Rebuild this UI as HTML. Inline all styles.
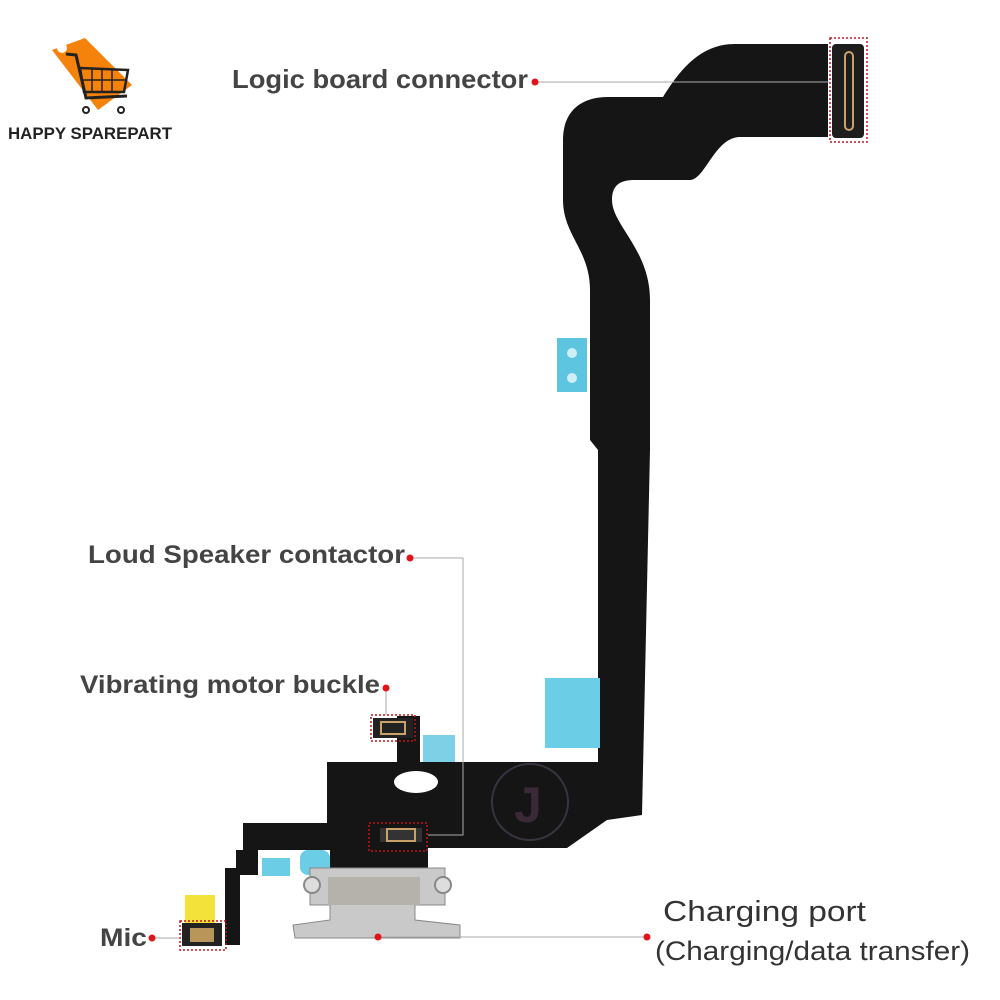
<!DOCTYPE html>
<html><head><meta charset="utf-8"><style>
html,body{margin:0;padding:0;background:#fff;}
svg{display:block}
text{font-family:"Liberation Sans",sans-serif;}
</style></head><body>
<svg width="1000" height="1000" viewBox="0 0 1000 1000" xmlns="http://www.w3.org/2000/svg">
<!-- logo -->
<g>
 <path d="M52 50 L85 38 L132 85 L98 110 Z" fill="#f5820a"/>
 <circle cx="62" cy="48" r="5" fill="#fff"/>
 <path d="M66 54 L76 55 L86 98 L127 96" fill="none" stroke="#222" stroke-width="3"/>
 <path d="M80 68 L128 70 L124 92 L84 92 Z" fill="none" stroke="#222" stroke-width="2.5"/>
 <path d="M92 69 V92 M102 69 V92 M112 70 V92 M82 80 H126" stroke="#222" stroke-width="1.5"/>
 <circle cx="86" cy="110" r="3" fill="none" stroke="#222" stroke-width="2"/>
 <circle cx="121" cy="110" r="3" fill="none" stroke="#222" stroke-width="2"/>
 <text x="8" y="139" font-size="17" font-weight="bold" fill="#222" textLength="164" lengthAdjust="spacingAndGlyphs">HAPPY SPAREPART</text>
</g>
<!-- flex cable -->
<path fill="#151515" d="M828 44 L735 44 C700 44 680 70 663 97 L608 97 C580 97 563 112 563 140 L563 200 C563 235 590 250 590 290 L590 440 L598 450 L598 762 L420 762 L420 745 L397 745 L397 762 L327 762 L327 823 L243 823 L243 850 L236 850 L236 868 L225 868 L225 945 L240 945 L240 875 L258 875 L258 850 L330 850 L330 870 L428 870 L428 848 L567 848 L607 820 L642 815 L650 450 L650 300 C650 250 612 225 612 200 C612 185 620 180 635 180 L690 180 C705 180 715 137 740 137 L828 137 Z"/>
<rect x="397" y="716" width="23" height="34" fill="#151515"/>
<ellipse cx="416" cy="782" rx="22" ry="11" fill="#fff"/>
<circle cx="530" cy="802" r="38" fill="none" stroke="#3a3340" stroke-width="2"/>
<text x="514" y="822" font-size="50" font-weight="bold" fill="#3a2a38">J</text>
<!-- top connector -->
<rect x="832" y="44" width="32" height="94" rx="4" fill="#1d1d1d"/>
<rect x="845" y="52" width="8" height="78" rx="4" fill="none" stroke="#c9a16a" stroke-width="2"/>
<rect x="830" y="38" width="37" height="104" fill="none" stroke="#c0141b" stroke-width="1.5" stroke-dasharray="2 2"/>
<!-- blue pads -->
<rect x="557" y="338" width="30" height="54" fill="#5ec5e0"/>
<circle cx="572" cy="353" r="5" fill="#d0eef6"/><circle cx="572" cy="378" r="5" fill="#d0eef6"/>
<rect x="545" y="678" width="55" height="70" fill="#6ccde6"/>
<rect x="423" y="735" width="32" height="27" fill="#7dd0e6"/>
<rect x="262" y="858" width="28" height="18" fill="#6ccde6"/>
<rect x="300" y="850" width="30" height="25" rx="8" fill="#6ccde6"/>
<rect x="185" y="895" width="30" height="28" fill="#f2e23a"/>
<!-- vib connector -->
<rect x="373" y="718" width="40" height="20" fill="#222"/>
<rect x="381" y="722" width="24" height="12" fill="none" stroke="#c9a16a" stroke-width="2"/>
<rect x="371" y="715" width="44" height="26" fill="none" stroke="#c0141b" stroke-width="1.5" stroke-dasharray="2 2"/>
<!-- speaker connector -->
<rect x="380" y="828" width="42" height="14" fill="#333"/>
<rect x="387" y="829" width="28" height="12" fill="none" stroke="#c9a16a" stroke-width="2"/>
<rect x="369" y="823" width="58" height="28" fill="none" stroke="#c0141b" stroke-width="1.5" stroke-dasharray="2 2"/>
<!-- mic -->
<rect x="182" y="923" width="40" height="23" fill="#222"/>
<rect x="190" y="928" width="24" height="14" fill="#b8965a"/>
<rect x="180" y="921" width="46" height="29" fill="none" stroke="#c0141b" stroke-width="1.5" stroke-dasharray="2 2"/>
<!-- port -->
<path d="M310 868 L445 868 L445 905 L415 905 L415 920 L460 925 L460 938 L295 938 L293 925 L330 920 L330 905 L310 905 Z" fill="#c9c9c9" stroke="#888" stroke-width="1"/>
<rect x="328" y="877" width="92" height="28" fill="#b5b2ab"/>
<circle cx="312" cy="885" r="8" fill="#ddd" stroke="#888" stroke-width="2"/>
<circle cx="443" cy="885" r="8" fill="#ddd" stroke="#888" stroke-width="2"/>
<!-- leaders -->
<g stroke="#aaa" stroke-width="1" fill="none">
 <path d="M535 82 H830"/>
 <path d="M410 558 H463 V835 H428"/>
 <path d="M386 688 V715"/>
 <path d="M152 938 H180"/>
 <path d="M378 937 H647"/>
</g>
<g fill="#e0141b">
 <circle cx="535" cy="82" r="3.5"/><circle cx="410" cy="558" r="3.5"/>
 <circle cx="386" cy="688" r="3.5"/><circle cx="152" cy="938" r="3.5"/>
 <circle cx="378" cy="937" r="3.5"/><circle cx="647" cy="937" r="3.5"/>
</g>
<g fill="#444" font-weight="bold">
 <text x="232" y="88" font-size="26" textLength="296" lengthAdjust="spacingAndGlyphs">Logic board connector</text>
 <text x="88" y="563" font-size="25" textLength="317" lengthAdjust="spacingAndGlyphs">Loud Speaker contactor</text>
 <text x="80" y="693" font-size="25" textLength="300" lengthAdjust="spacingAndGlyphs">Vibrating motor buckle</text>
 <text x="100" y="946" font-size="25" textLength="47" lengthAdjust="spacingAndGlyphs">Mic</text>
 <text x="663" y="921" font-size="29" font-weight="normal" fill="#333" textLength="203" lengthAdjust="spacingAndGlyphs">Charging port</text>
 <text x="655" y="960" font-size="27" font-weight="normal" fill="#333" textLength="315" lengthAdjust="spacingAndGlyphs">(Charging/data transfer)</text>
</g>
</svg>
</body></html>
